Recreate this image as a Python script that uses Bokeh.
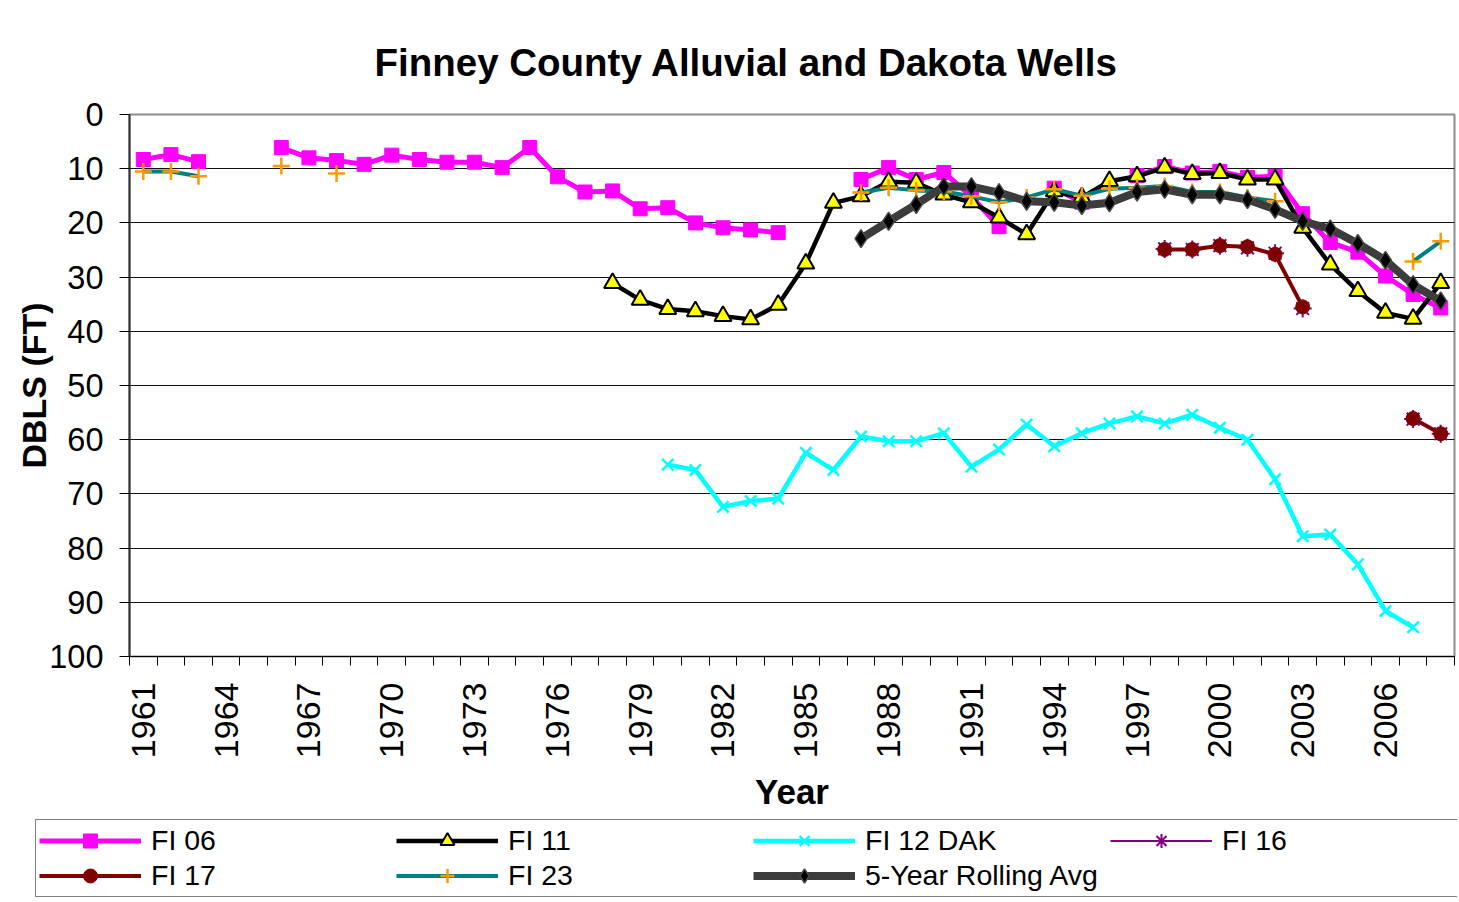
import numpy as np
from bokeh.plotting import figure
from bokeh.layouts import column
from bokeh.models import Range1d, FixedTicker, Legend, LegendItem, ColumnDataSource
from bokeh.embed import file_html
from bokeh.resources import INLINE

N = None
years = list(range(1961, 2009))
x_tick_years = list(range(1961, 2009, 3))
y_ticks = list(range(0, 101, 10))

# values per year 1961..2008 (None = no reading)
fi06 = [8.3, 7.4, 8.7, N, N, 6.1, 8.0, 8.5, 9.2, 7.5,
        8.3, 8.8, 8.8, 9.8, 6.1, 11.5, 14.3, 14.1, 17.4, 17.2,
        20.0, 20.9, 21.3, 21.8, N, N, 12.0, 9.8, 12.0, 10.7,
        15.1, 20.7, N, 13.6, 16.2, N, 11.3, 9.6, 10.8, 10.5,
        11.6, 11.4, 18.3, 23.6, 25.4, 29.8, 33.2, 35.7]
fi11 = [N, N, N, N, N, N, N, N, N, N,
        N, N, N, N, N, N, N, 31.1, 34.2, 35.9,
        36.3, 37.2, 37.8, 35.1, 27.5, 16.3, 15.1, 12.4, 12.6, 14.8,
        16.2, 19.0, 22.1, 14.2, 15.3, 12.3, 11.4, 9.8, 11.0, 10.8,
        12.0, 12.0, 20.9, 27.7, 32.6, 36.6, 37.7, 31.1]
fi12_dak = [N, N, N, N, N, N, N, N, N, N,
            N, N, N, N, N, N, N, N, N, 64.6,
            65.6, 72.4, 71.3, 70.9, 62.4, 65.6, 59.4, 60.3, 60.3, 58.8,
            65.0, 61.8, 57.2, 61.2, 58.8, 57.0, 55.7, 57.0, 55.4, 57.8,
            60.0, 67.3, 77.8, 77.5, 83.0, 91.6, 94.6, N]
fi16 = [N] * 37 + [24.8, 24.9, 24.2, 24.6, 25.6, 35.8, N, N, N, 56.2, 58.9]
fi17 = [N] * 37 + [24.9, 24.9, 24.2, 24.4, 25.8, 35.5, N, N, N, 56.1, 58.9]
fi23 = [10.5, 10.5, 11.4, N, N, 9.5, N, 10.9, N, N,
        N, N, N, N, N, N, N, N, N, N,
        N, N, N, N, N, N, 14.4, 13.5, 14.0, 14.2,
        15.1, 16.2, 15.3, 13.8, 15.0, 13.7, 13.5, 13.2, 14.3, 14.3,
        15.3, 16.0, N, N, N, N, 27.1, 23.4]
avg5 = [N] * 26 + [22.9, 19.7, 16.6, 13.3,
                   13.3, 14.4, 16.0, 16.2, 16.8, 16.3, 14.3, 13.8, 14.8, 14.8,
                   15.7, 17.5, 19.7, 21.1, 23.8, 26.9, 31.4, 34.4]

series_names = ["FI 06", "FI 11", "FI 12 DAK", "FI 16", "FI 17", "FI 23", "5-Year Rolling Avg"]


def arr(v):
    return np.array([np.nan if a is None else a for a in v], dtype=float)


FONT = "Liberation Sans"

p = figure(width=1457, height=816, output_backend="svg", toolbar_location=None,
           x_range=Range1d(1960.5, 2008.5), y_range=Range1d(100, 0),
           min_border_left=129, min_border_right=3, min_border_top=114,
           min_border_bottom=160)
p.frame_align = False
p.background_fill_color = "white"
p.border_fill_color = "white"
p.outline_line_color = "#8c8c8c"
p.outline_line_width = 2

p.title.text = "Finney County Alluvial and Dakota Wells"
p.title.text_font = FONT
p.title.text_font_size = "38.5px"
p.title.text_font_style = "bold"
p.title.text_color = "black"
p.title.align = "left"
p.title.offset = 245
p.title.standoff = 61

# axes
xa = p.xaxis[0]
xa.ticker = FixedTicker(ticks=x_tick_years, minor_ticks=[y - 0.5 for y in years] + [2008.5])
xa.major_tick_out = 0
xa.major_tick_in = 0
xa.minor_tick_out = 9
xa.minor_tick_in = 0
xa.minor_tick_line_color = "black"
xa.axis_line_color = "black"
xa.major_label_orientation = np.pi / 2
xa.major_label_standoff = 17
xa.major_label_text_font = FONT
xa.major_label_text_font_size = "34px"
xa.major_label_text_color = "black"
xa.axis_label = "Year"
xa.axis_label_text_font = FONT
xa.axis_label_text_font_size = "35px"
xa.axis_label_text_font_style = "bold"
xa.axis_label_text_color = "black"
xa.axis_label_standoff = 11

ya = p.yaxis[0]
ya.ticker = FixedTicker(ticks=y_ticks)
ya.major_tick_out = 10
ya.major_tick_in = 0
ya.minor_tick_out = 0
ya.minor_tick_in = 0
ya.major_tick_line_color = "black"
ya.axis_line_color = "#333333"
ya.axis_line_width = 2
ya.major_label_standoff = 16
ya.major_label_text_font = FONT
ya.major_label_text_font_size = "32.5px"
ya.major_label_text_color = "black"
ya.axis_label = "DBLS (FT)"
ya.axis_label_text_font = FONT
ya.axis_label_text_font_size = "34px"
ya.axis_label_text_font_style = "bold"
ya.axis_label_text_color = "black"
ya.axis_label_standoff = -7

p.xgrid.grid_line_color = None
p.ygrid.grid_line_color = "#111111"
p.ygrid.grid_line_width = 1

src = ColumnDataSource(dict(year=years, fi06=arr(fi06), fi11=arr(fi11), fi12=arr(fi12_dak),
                            fi16=arr(fi16), fi17=arr(fi17), fi23=arr(fi23), avg=arr(avg5)))

# style per series: (column, line kwargs, marker kwargs)
styles = [
    ("fi06", dict(line_color="#FF00FF", line_width=5),
     dict(marker="square", size=14, fill_color="#FF00FF", line_color="#FF00FF")),
    ("fi11", dict(line_color="black", line_width=4.5),
     dict(marker="triangle", size=17, fill_color="#FFFF00", line_color="black", line_width=2)),
    ("fi12", dict(line_color="#00FFFF", line_width=4.5),
     dict(marker="x", size=16, line_color="#00FFFF", line_width=2.5)),
    ("fi16", dict(line_color="#800080", line_width=2),
     dict(marker="asterisk", size=18, line_color="#800080", line_width=2)),
    ("fi17", dict(line_color="#800000", line_width=4),
     dict(marker="circle", size=14, fill_color="#800000", line_color="#800000")),
    ("fi23", dict(line_color="#008080", line_width=4),
     dict(marker="cross", size=17, line_color="#FF9900", line_width=2.5)),
    ("avg", dict(line_color="#3c3c3c", line_width=8),
     dict(marker="diamond", size=18, fill_color="black", line_color="#4a4a4a", line_width=1.5)),
]

for col, lkw, mkw in styles:
    p.line("year", col, source=src, **lkw)
    p.scatter("year", col, source=src, **mkw)

# legend strip below the chart; its renderers use the same data but lie outside its view
leg = figure(width=1457, height=86, output_backend="svg", toolbar_location=None,
             x_axis_type=None, y_axis_type=None, min_border=0,
             x_range=Range1d(0, 1), y_range=Range1d(0, 1))
leg.frame_align = False
leg.outline_line_color = None
leg.grid.grid_line_color = None
leg.background_fill_color = "white"
leg.border_fill_color = "white"
items = []
for name, (col, lkw, mkw) in zip(series_names, styles):
    lr = leg.line("year", col, source=src, **lkw)
    mr = leg.scatter("year", col, source=src, **mkw)
    items.append(LegendItem(label=name, renderers=[lr, mr]))

legend = Legend(items=items, location=(35, 5), orientation="horizontal", ncols=4,
                glyph_width=102, glyph_height=35, label_standoff=10, label_width=245,
                label_height=31, spacing=0, padding=3, margin=0,
                label_text_font=FONT, label_text_font_size="28.5px",
                label_text_color="black",
                border_line_color="black", border_line_width=1,
                background_fill_color="white", background_fill_alpha=1)
leg.add_layout(legend, "center")

layout = column(p, leg, spacing=0)
open("out.html", "w").write(file_html(layout, INLINE))
